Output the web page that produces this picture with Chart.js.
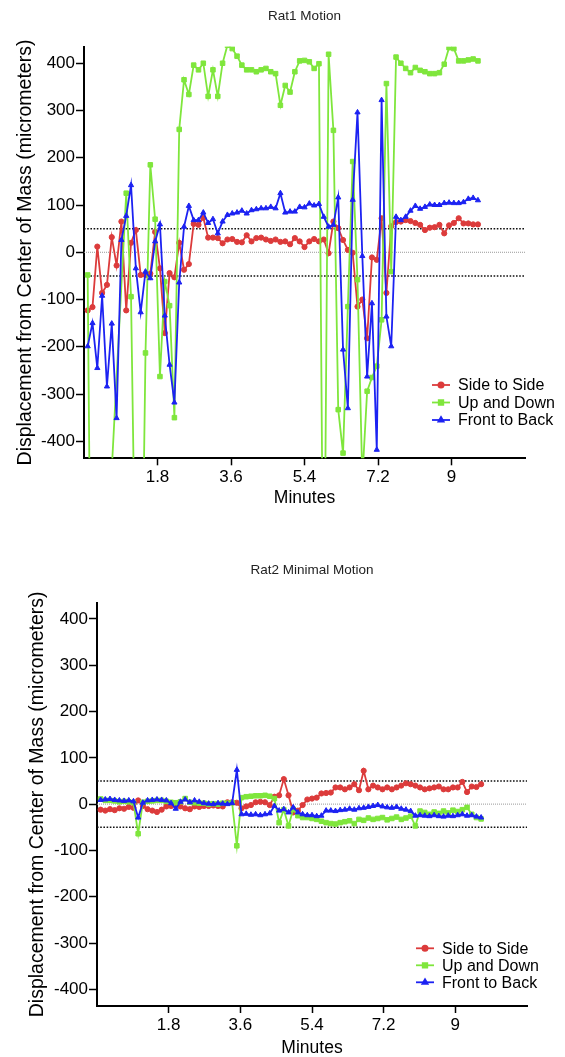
<!DOCTYPE html>
<html>
<head>
<meta charset="utf-8">
<script src="https://cdn.jsdelivr.net/npm/chart.js@4.4.1/dist/chart.umd.min.js"></script>
<style>
  html, body { margin: 0; padding: 0; background: #fff; overflow: hidden; }
  canvas { position: absolute; left: 0; }
  #rat1 { top: 0; }
  #rat2 { top: 555px; }
</style>
</head>
<body>
<canvas id="rat1" width="565" height="510"></canvas>
<canvas id="rat2" width="565" height="505"></canvas>
<script>
// one reading roughly every 7 s
const START_MIN = 0.09;
const STEP_MIN = 0.118;

const xTicks = [1.8, 3.6, 5.4, 7.2, 9];
const yTicks = [-400, -300, -200, -100, 0, 100, 200, 300, 400];
const guideLevels = [50, -50];
const seriesNames = ['Side to Side', 'Up and Down', 'Front to Back'];

// Rat1 (null = no marker visible, line spans across)
const rat1Side = [
  -123, -116, 12, -86, -69, 32, -28, 65, -123, 20,
  47, -48, -48, -45, 43, -34, -171, -44, -53, 20,
  -37, -25, 60, 58, 73, 31, 31, 30, 19, 27,
  28, 22, 21, 36, 23, 30, 31, 27, 24, 27,
  22, 23, 17, 30, 23, 11, 23, 28, 23, 27,
  -2, 65, 51, 26, 5, -1, -115, -100, -182, -11,
  -16, 72, -86, 55, 64, 65, 68, 66, 62, 58,
  47, 52, 53, 58, 40, 57, 62, 72, 61, 61,
  59, 59
];
const rat1Up = [
  -48, -1200, null, null, null, -460, null, null, 125, -94,
  -780, -950, -213, 185, 70, -263, -62, -113, -350, 260,
  365, 334, 396, 386, 400, 330, 386, 330, 400, 438,
  431, 415, 396, 386, 386, 382, 386, 389, 382, 378,
  311, 353, 339, 382, 405, 406, 403, 389, 399, -900,
  419, 258, -333, -425, -115, 192, -58, -480, -294, -265,
  -241, -143, 357, -41, 413, 400, 389, 380, 391, 385,
  382, 378, 378, 380, 398, 433, 431, 405, 405, 407,
  409, 405
];
const rat1Front = [
  -199, -150, -245, -92, -284, -151, -351, 26, 77, 142,
  -34, -127, -41, -55, 23, 59, -134, -238, -318, -64,
  54, 98, 68, 68, 84, 62, 70, 40, 65, 79,
  82, 84, 88, 82, 89, 91, 93, 93, 96, 93,
  125, 84, 86, 86, 96, 95, 103, 99, 102, 75,
  54, 58, 116, -206, -330, 111, 296, -8, -263, -108,
  -418, 322, -136, -199, 75, 68, 75, 88, 98, 92,
  96, 101, 100, 100, 104, 105, 104, 104, 106, 113,
  115, 110
];

// Rat2
const rat2Side = [
  -12, -14, -11, -13, -9, -10, -6, -8, 8, -4,
  -11, -14, -17, -12, -5, -4, -2, -5, -9, -11,
  -5, -6, -4, -4, -3, -4, -5, 4, 4, 3,
  -9, -5, -2, 4, 5, 4, -2, 16, 19, 54,
  19, -18, -14, -2, 10, 12, 14, 23, 24, 25,
  36, 36, 32, 36, 43, 30, 72, 32, 40, 36,
  32, 36, 32, 36, 40, 45, 43, 40, 36, 32,
  34, 36, 38, 32, 32, 36, 36, 48, 26, 38,
  37, 43
];
const rat2Up = [
  11, 8, 8, 7, 5, 6, 5, 3, -64, 4,
  6, 7, 8, 8, 6, 4, 3, 5, 12, 4,
  3, 2, 2, 0, 1, 0, 2, 2, 3, -90,
  14, 16, 17, 18, 18, 19, 17, 12, -40, -12,
  -47, -11, -25, -29, -29, -31, -33, -37, -40, -42,
  -43, -40, -38, -36, -42, -33, -35, -30, -33, -31,
  -29, -34, -31, -28, -33, -30, -26, -47, -15, -18,
  -22, -17, -20, -15, -19, -13, -16, -12, -7, -22,
  -29, -32
];
const rat2Front = [
  9, 10, 11, 9, 8, 7, 8, 6, -29, 3,
  8, 9, 10, 9, 8, 2, -10, 5, 10, 4,
  8, 5, 2, 1, 0, 2, 1, 0, 2, 74,
  -22, -21, -23, -22, -24, -22, -20, -4, -14, -11,
  -18, -7, -18, -22, -24, -24, -26, -25, -14, -14,
  -15, -13, -12, -10, -12, -9, -8, -6, -4, -2,
  -5, -7, -8, -6, -10, -12, -15, -25, -24, -25,
  -26, -24, -26, -27, -25, -26, -24, -22, -25, -24,
  -27, -29
];

const FONT = '"Liberation Sans", Arial, Helvetica, sans-serif';
const colors = ['#dc3b3b', '#7fe63c', '#1c22f2'];
const markers = [
  { style: 'circle', r: 2.6 },
  { style: 'rect', r: 3.2 },
  { style: 'triangle', r: 3.0 }
];

function toPoints(values) {
  return values.map((v, i) => ({ x: START_MIN + i * STEP_MIN, y: v }));
}

function seriesSet(values, i) {
  return {
    label: seriesNames[i],
    data: toPoints(values),
    borderColor: colors[i],
    backgroundColor: colors[i],
    borderWidth: 1.8,
    pointStyle: markers[i].style,
    pointRadius: markers[i].r,
    pointBackgroundColor: colors[i],
    pointBorderColor: colors[i],
    pointBorderWidth: 1,
    spanGaps: true,
    tension: 0,
    order: 3 - i
  };
}

function guideSet(y, color, dash, width) {
  return {
    label: 'guide',
    isGuide: true,
    data: [{ x: 0, y: y }, { x: 10.8, y: y }],
    borderColor: color,
    borderWidth: width,
    borderDash: dash,
    pointRadius: 0,
    order: 5
  };
}

// chart title centred over the plot, legend drawn inside the plot
const overlay = {
  id: 'overlay',
  afterDraw(chart, args, opts) {
    const ctx = chart.ctx;
    const area = chart.chartArea;
    ctx.save();
    ctx.fillStyle = '#222';
    ctx.font = '13.5px ' + FONT;
    ctx.textAlign = 'center';
    ctx.textBaseline = 'middle';
    ctx.fillText(opts.title, (area.left + area.right) / 2, opts.titleY);

    ctx.font = '16px ' + FONT;
    ctx.textAlign = 'left';
    chart.data.datasets.forEach((ds, i) => {
      if (ds.isGuide) return;
      const y = opts.legendY + i * opts.legendGap;
      const x = opts.legendX;
      ctx.strokeStyle = ds.borderColor;
      ctx.lineWidth = 1.8;
      ctx.setLineDash([]);
      ctx.beginPath();
      ctx.moveTo(x, y);
      ctx.lineTo(x + 18, y);
      ctx.stroke();
      ctx.fillStyle = ds.borderColor;
      Chart.helpers.drawPoint(ctx, { pointStyle: ds.pointStyle, radius: ds.pointRadius, rotation: 0, borderWidth: 1 }, x + 9, y);
      ctx.fillStyle = '#000';
      ctx.fillText(ds.label, x + 26, y + 1);
    });
    ctx.restore();
  }
};

function makeChart(id, side, up, front, cfg) {
  return new Chart(document.getElementById(id), {
    type: 'line',
    data: {
      datasets: [
        seriesSet(side, 0),
        seriesSet(up, 1),
        seriesSet(front, 2),
        guideSet(guideLevels[0], '#111', [1.6, 1.6], 1.5),
        guideSet(0, '#999', [1, 1], 1),
        guideSet(guideLevels[1], '#111', [1.6, 1.6], 1.5)
      ]
    },
    options: {
      responsive: false,
      animation: false,
      devicePixelRatio: 1,
      events: [],
      layout: { padding: { top: cfg.top, right: cfg.right, left: 0, bottom: 0 } },
      plugins: {
        legend: { display: false },
        tooltip: { enabled: false },
        overlay: cfg.overlay
      },
      scales: {
        x: {
          type: 'linear',
          min: 0,
          max: 10.8,
          afterBuildTicks: s => { s.ticks = xTicks.map(v => ({ value: v })); },
          afterFit: s => { s.height = cfg.xHeight; },
          grid: { drawOnChartArea: false, drawTicks: true, tickLength: 7, tickWidth: 1.5, tickColor: '#000' },
          border: { display: true, color: '#000', width: 2 },
          ticks: {
            color: '#000',
            padding: 2,
            autoSkip: false,
            maxRotation: 0,
            font: { size: 17, family: FONT },
            callback: v => String(v)
          },
          title: {
            display: true,
            text: 'Minutes',
            color: '#000',
            font: { size: 17.5, family: FONT },
            padding: { top: 0, bottom: 1.5 }
          }
        },
        y: {
          type: 'linear',
          min: -436,
          max: 435,
          afterBuildTicks: s => { s.ticks = yTicks.map(v => ({ value: v })); },
          afterFit: s => { s.width = cfg.yWidth; },
          grid: { drawOnChartArea: false, drawTicks: true, tickLength: 8, tickWidth: 1.5, tickColor: '#000' },
          border: { display: true, color: '#000', width: 2 },
          ticks: {
            color: '#000',
            padding: 1,
            font: { size: 17, family: FONT },
            callback: v => String(v)
          },
          title: {
            display: true,
            text: 'Displacement from Center of Mass (micrometers)',
            color: '#000',
            font: { size: 19.5, family: FONT, lineHeight: 1.2 },
            padding: { top: cfg.yTitlePad, bottom: 0 }
          }
        }
      }
    },
    plugins: [overlay]
  });
}

makeChart('rat1', rat1Side, rat1Up, rat1Front, {
  top: 46.7, right: 40, xHeight: 51.7, yWidth: 84, yTitlePad: 14.3,
  overlay: { title: 'Rat1 Motion', titleY: 16, legendX: 432, legendY: 385, legendGap: 17.5 }
});

makeChart('rat2', rat2Side, rat2Up, rat2Front, {
  top: 47.7, right: 38, xHeight: 54, yWidth: 97, yTitlePad: 25.8,
  overlay: { title: 'Rat2 Minimal Motion', titleY: 15, legendX: 416, legendY: 393.3, legendGap: 17 }
});
</script>
</body>
</html>
